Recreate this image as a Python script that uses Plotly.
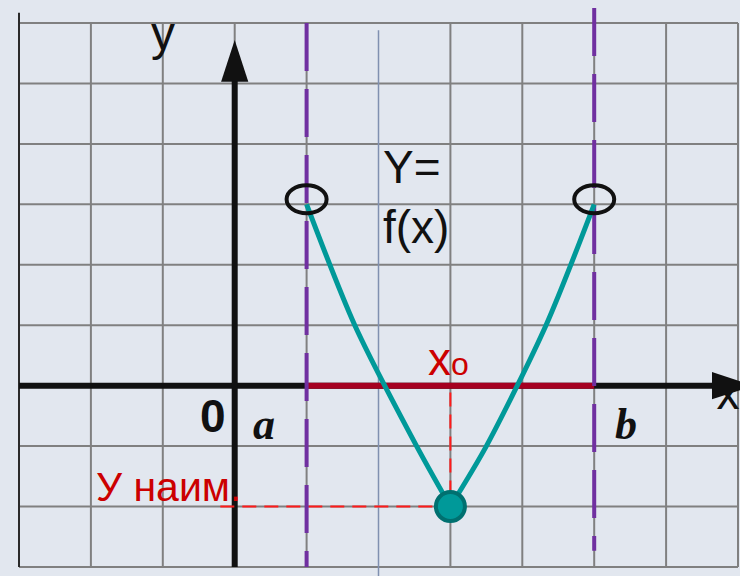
import plotly.graph_objects as go

# grid (cells of the squared paper)
grid_cols = [-3, -2, -1, 0, 1, 3, 4, 5, 6, 7]
grid_rows = [-3, -2, -1, 0, 1, 2, 3, 4, 5, 6]
thin_col = 2

# segment [a, b] and the function on it
a_x = 1
b_x = 5
f_ends = [3, 3]
x_min = 3
y_min = -2

left_x = [1, 1.67, 2.53, 3]
left_y = [3, 1, -1, -2]
right_x = [3, 3.5, 4.33, 5]
right_y = [-2, -1, 1, 3]

BG = "#e2e7ef"
GRID = "#808080"
TEAL = "#009999"
PURPLE = "#7030a0"
DARKRED = "#a50021"
RED = "#ff1a1a"
TXTRED = "#cc0000"

x_lo, x_hi = -3.2643, 7.0278
y_lo, y_hi = -3.1496, 6.3805
top, bottom = grid_rows[-1], grid_rows[0]
left, right = grid_cols[0], grid_cols[-1]

fig = go.Figure()

# grid lines
gx, gy = [], []
for c in grid_cols:
    gx += [c, c, None]
    gy += [bottom, top, None]
for r in grid_rows:
    gx += [left, right, None]
    gy += [r, r, None]
fig.add_trace(go.Scatter(x=gx, y=gy, mode="lines", line=dict(color=GRID, width=2), hoverinfo="skip"))

fig.add_trace(go.Scatter(x=[thin_col, thin_col], y=[5.88, y_lo], mode="lines",
                         line=dict(color="#8090b0", width=1.5), hoverinfo="skip"))
fig.add_trace(go.Scatter(x=[left, left], y=[6.17, bottom], mode="lines",
                         line=dict(color="#2a2a2a", width=2), hoverinfo="skip"))

# axes
fig.add_trace(go.Scatter(x=[left, 6.8], y=[0, 0], mode="lines",
                         line=dict(color="#111111", width=6), hoverinfo="skip"))
fig.add_trace(go.Scatter(x=[0, 0], y=[bottom, 5.2], mode="lines",
                         line=dict(color="#111111", width=6), hoverinfo="skip"))

# guides to the minimum
fig.add_trace(go.Scatter(x=[-0.2, x_min, x_min], y=[y_min, y_min, 0], mode="lines",
                         line=dict(color=RED, width=2, dash="14px,8px"), hoverinfo="skip"))

# segment on the x axis
fig.add_trace(go.Scatter(x=[a_x, b_x], y=[0, 0], mode="lines",
                         line=dict(color=DARKRED, width=6), hoverinfo="skip"))

# bounds a and b
fig.add_trace(go.Scatter(x=[a_x, a_x], y=[top, bottom], mode="lines",
                         line=dict(color=PURPLE, width=4, dash="48px,18px"), hoverinfo="skip"))
fig.add_trace(go.Scatter(x=[b_x, b_x], y=[6.25, -2.73], mode="lines",
                         line=dict(color=PURPLE, width=4, dash="48px,18px"), hoverinfo="skip"))

# the function
for xs, ys in [(left_x, left_y), (right_x, right_y)]:
    fig.add_trace(go.Scatter(x=xs, y=ys, mode="lines",
                             line=dict(color=TEAL, width=5, shape="spline", smoothing=0.8),
                             hoverinfo="skip"))

# x label partly hidden under the arrow
fig.add_trace(go.Scatter(x=[6.86], y=[-0.2], mode="text", text=["x"],
                         textfont=dict(family="Liberation Sans, Arial", size=46, color="#111111"),
                         hoverinfo="skip"))

# arrowheads
fig.add_trace(go.Scatter(x=[0, 7.22], y=[5.72, 0], mode="markers",
                         marker=dict(symbol="arrow", size=44, angle=[0, 90], color="#111111"),
                         hoverinfo="skip"))

# minimum point
fig.add_trace(go.Scatter(x=[x_min], y=[y_min], mode="markers",
                         marker=dict(size=29, color=TEAL, line=dict(color="#007070", width=4)),
                         hoverinfo="skip"))

# open ends
for ex, ey in zip([a_x, b_x], f_ends):
    fig.add_shape(type="circle", xref="x", yref="y", xsizemode="pixel", ysizemode="pixel",
                  xanchor=ex, yanchor=ey, x0=-20, x1=20, y0=-9, y1=19,
                  line=dict(color="#111111", width=4), layer="above")

font = "Liberation Sans, Arial, sans-serif"
serif = "Liberation Serif, Times New Roman, serif"
ann = [
    dict(text="y", x=-1, y=5.82, xanchor="center", font=dict(family=font, size=48, color="#111111")),
    dict(text="Y=", x=2.04, y=3.62, xanchor="left", font=dict(family=font, size=46, color="#111111")),
    dict(text="f(x)", x=2.04, y=2.62, xanchor="left", font=dict(family=font, size=46, color="#111111")),
    dict(text="<b>0</b>", x=-0.1, y=-0.5, xanchor="right", font=dict(family=font, size=46, color="#111111")),
    dict(text="<b><i>a</i></b>", x=0.414, y=-0.65, xanchor="center", font=dict(family=serif, size=44, color="#111111")),
    dict(text="<b><i>b</i></b>", x=5.44, y=-0.65, xanchor="center", font=dict(family=serif, size=44, color="#111111")),
    dict(text="x<span style='font-size:32px'>o</span>", x=2.66, y=0.44, xanchor="left",
         font=dict(family=font, size=46, color=TXTRED)),
    dict(text="У наим.", x=-1.96, y=-1.67, xanchor="left", font=dict(family=font, size=41, color=TXTRED)),
]
for a in ann:
    fig.add_annotation(xref="x", yref="y", showarrow=False, yanchor="middle", **a)

fig.update_layout(
    width=740, height=576,
    margin=dict(l=0, r=0, t=0, b=0),
    paper_bgcolor=BG, plot_bgcolor=BG,
    showlegend=False,
    xaxis=dict(range=[x_lo, x_hi], visible=False, fixedrange=True),
    yaxis=dict(range=[y_lo, y_hi], visible=False, fixedrange=True),
)

fig.write_html("out.html", post_script="document.body.style.margin='0';", config={"displayModeBar": False})
